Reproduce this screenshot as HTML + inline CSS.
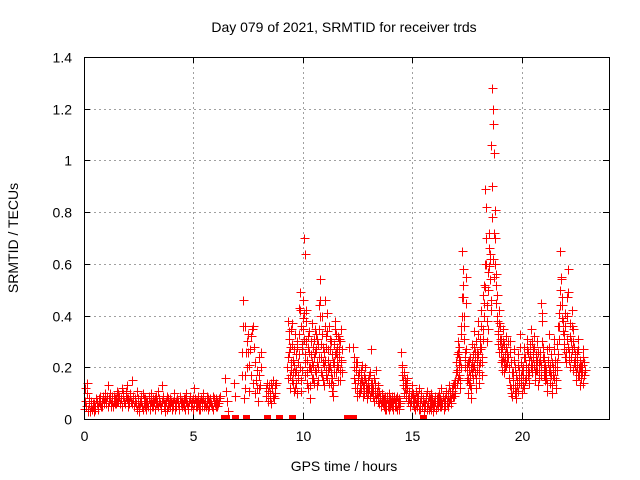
<!DOCTYPE html>
<html><head><meta charset="utf-8"><style>
body{margin:0;background:#fff}
svg{display:block;font-family:"Liberation Sans",sans-serif}
</style></head><body>
<svg id="c" width="640" height="480">
<text x="344" y="32" text-anchor="middle" font-size="14">Day 079 of 2021, SRMTID for receiver trds</text>
<text x="18" y="238" text-anchor="middle" font-size="14" transform="rotate(-90 18 238)">SRMTID / TECUs</text>
<text x="344" y="471" text-anchor="middle" font-size="14">GPS time / hours</text>
<g id="grid"></g><g id="marks"></g>
<rect x="84.5" y="57.5" width="525" height="362" fill="none" stroke="#000" stroke-width="1"/>
</svg>
<script>
const xTicks=[0,5,10,15,20];
const yTicks=[0,0.2,0.4,0.6,0.8,1,1.2,1.4];
const yTickLabels=["0","0.2","0.4","0.6","0.8","1","1.2","1.4"];
const segStarts=[0,7.2,8.3,9.3,12.3,14.5,17.0,19.4,0.025,9.315,12.32,14.52,17.015,19.417];
const segSteps=[0.05,0.03,0.03,0.03,0.04,0.04,0.03,0.035,0.05,0.03,0.04,0.04,0.03,0.035];
const seg0=[0.04,0.12,0.05,0.14,0.03,0.08,0.05,0.04,0.06,0.03,0.05,0.08,0.06,0.04,0.07,0.09,0.05,0.08,0.07,0.10,0.06,0.09,0.13,0.07,0.08,0.05,0.09,0.07,0.06,0.08,0.11,0.07,0.09,0.06,0.08,0.12,0.10,0.07,0.09,0.13,0.08,0.06,0.10,0.07,0.15,0.09,0.05,0.08,0.11,0.06,0.03,0.07,0.09,0.05,0.10,0.06,0.08,0.04,0.07,0.09,0.06,0.10,0.05,0.08,0.07,0.04,0.09,0.06,0.11,0.07,0.05,0.13,0.08,0.06,0.03,0.07,0.09,0.05,0.06,0.08,0.04,0.07,0.10,0.06,0.05,0.08,0.07,0.04,0.09,0.06,0.07,0.05,0.08,0.10,0.06,0.04,0.07,0.09,0.05,0.06,0.08,0.12,0.07,0.05,0.09,0.06,0.04,0.08,0.07,0.10,0.05,0.06,0.09,0.04,0.07,0.08,0.06,0.05,0.09,0.07,0.06,0.08,0.05,0.07,0.09];
const seg1=[0.17,0.26,0.46,0.36,0.08,0.17,0.12,0.26,0.20,0.30,0.33,0.11,0.21,0.27,0.17,0.32,0.35,0.36,0.14,0.28,0.10,0.22,0.15,0.19,0.12,0.07,0.17,0.24,0.13,0.20,0.26];
const seg2=[0.12,0.09,0.14,0.07,0.11,0.13,0.08,0.10,0.14,0.06,0.12,0.09,0.15,0.08,0.13,0.10,0.14];
const seg3=[0.20,0.38,0.26,0.31,0.17,0.35,0.22,0.29,0.18,0.14,0.21,0.12,0.33,0.19,0.10,0.28,0.16,0.43,0.25,0.49,0.11,0.36,0.27,0.46,0.39,0.70,0.64,0.22,0.30,0.42,0.18,0.28,0.12,0.34,0.20,0.08,0.25,0.16,0.37,0.21,0.31,0.14,0.26,0.18,0.33,0.22,0.15,0.29,0.35,0.54,0.46,0.24,0.17,0.40,0.28,0.13,0.21,0.46,0.19,0.32,0.41,0.16,0.23,0.36,0.20,0.27,0.14,0.30,0.11,0.22,0.09,0.18,0.25,0.38,0.33,0.21,0.28,0.15,0.31,0.24,0.19,0.35,0.22,0.27];
const seg4=[0.28,0.24,0.12,0.19,0.09,0.22,0.15,0.18,0.11,0.16,0.21,0.13,0.17,0.10,0.20,0.14,0.08,0.15,0.12,0.18,0.11,0.27,0.14,0.09,0.16,0.12,0.19,0.10,0.13,0.07,0.11,0.09,0.06,0.10,0.08,0.05,0.09,0.07,0.04,0.08,0.06,0.10,0.05,0.07,0.09,0.06,0.04,0.08,0.07,0.05,0.09,0.06,0.08,0.04,0.07];
const seg5=[0.26,0.20,0.15,0.18,0.12,0.14,0.10,0.16,0.08,0.11,0.06,0.09,0.13,0.07,0.10,0.05,0.08,0.11,0.06,0.09,0.12,0.04,0.07,0.10,0.05,0.08,0.03,0.06,0.09,0.11,0.05,0.07,0.04,0.08,0.10,0.06,0.03,0.07,0.05,0.09,0.04,0.08,0.06,0.10,0.05,0.07,0.12,0.06,0.09,0.04,0.08,0.11,0.07,0.05,0.10,0.13,0.08,0.06,0.11,0.09,0.14,0.10,0.12];
const seg6=[0.18,0.25,0.14,0.30,0.21,0.17,0.23,0.12,0.36,0.47,0.65,0.58,0.40,0.31,0.20,0.55,0.27,0.15,0.22,0.10,0.19,0.13,0.24,0.08,0.18,0.29,0.16,0.34,0.21,0.26,0.12,0.30,0.19,0.38,0.25,0.14,0.31,0.22,0.42,0.28,0.17,0.35,0.48,0.52,0.60,0.89,0.82,0.44,0.30,0.57,0.66,0.72,0.62,0.46,1.06,1.28,1.20,1.14,1.03,0.81,0.70,0.56,0.48,0.38,0.33,0.42,0.26,0.36,0.22,0.31,0.19,0.28,0.35,0.18,0.29,0.24,0.32,0.21,0.26,0.30];
const seg7=[0.24,0.16,0.30,0.12,0.22,0.09,0.18,0.27,0.13,0.20,0.08,0.15,0.25,0.11,0.19,0.33,0.14,0.22,0.10,0.17,0.28,0.12,0.24,0.16,0.31,0.20,0.26,0.14,0.29,0.23,0.35,0.18,0.27,0.32,0.21,0.15,0.25,0.19,0.30,0.13,0.22,0.26,0.17,0.45,0.41,0.28,0.20,0.24,0.15,0.19,0.11,0.27,0.22,0.33,0.18,0.14,0.25,0.10,0.20,0.31,0.16,0.23,0.12,0.19,0.29,0.36,0.41,0.50,0.65,0.55,0.44,0.38,0.33,0.27,0.41,0.22,0.47,0.31,0.58,0.26,0.37,0.20,0.30,0.42,0.35,0.19,0.28,0.24,0.15,0.26,0.20,0.31,0.17,0.23,0.13,0.21,0.18,0.27,0.14,0.22];
const seg8=[0.07,0.05,0.10,0.04,0.06,0.03,0.07,0.04,0.05,0.06,0.04,0.07,0.05,0.08,0.06,0.05,0.07,0.09,0.06,0.08,0.07,0.05,0.08,0.10,0.06,0.07,0.05,0.09,0.08,0.06,0.07,0.10,0.06,0.08,0.05,0.09,0.07,0.06,0.11,0.08,0.05,0.07,0.09,0.06,0.08,0.05,0.07,0.06,0.04,0.08,0.05,0.06,0.07,0.04,0.08,0.05,0.07,0.06,0.05,0.08,0.04,0.07,0.06,0.05,0.08,0.06,0.07,0.05,0.08,0.06,0.04,0.07,0.09,0.05,0.06,0.04,0.08,0.06,0.05,0.07,0.06,0.05,0.08,0.04,0.07,0.06,0.05,0.08,0.07,0.05,0.06,0.08,0.04,0.07,0.06,0.05,0.08,0.06,0.07,0.04,0.06,0.08,0.05,0.07,0.06,0.04,0.07,0.05,0.08,0.06,0.07,0.05,0.06,0.08,0.05,0.07,0.06,0.04,0.08,0.06,0.05,0.07,0.06,0.08];
const seg9=[0.16,0.24,0.34,0.12,0.28,0.19,0.37,0.15,0.23,0.27,0.11,0.18,0.25,0.14,0.30,0.22,0.17,0.33,0.20,0.42,0.15,0.29,0.19,0.35,0.41,0.31,0.25,0.17,0.38,0.23,0.14,0.32,0.20,0.26,0.13,0.19,0.30,0.22,0.28,0.16,0.24,0.35,0.19,0.27,0.13,0.31,0.20,0.24,0.44,0.40,0.29,0.18,0.33,0.22,0.15,0.26,0.36,0.23,0.17,0.28,0.34,0.19,0.27,0.14,0.31,0.21,0.18,0.25,0.16,0.13,0.22,0.29,0.35,0.26,0.18,0.24,0.32,0.20,0.27,0.15,0.30,0.23,0.18];
const seg10=[0.20,0.16,0.14,0.22,0.12,0.17,0.10,0.14,0.19,0.12,0.15,0.09,0.13,0.16,0.11,0.12,0.10,0.13,0.17,0.09,0.14,0.11,0.12,0.07,0.10,0.14,0.08,0.11,0.09,0.06,0.08,0.05,0.07,0.09,0.06,0.08,0.04,0.06,0.09,0.05,0.07,0.04,0.08,0.06,0.05,0.07,0.09,0.05,0.06,0.08,0.04,0.07,0.05,0.06];
const seg11=[0.21,0.17,0.13,0.10,0.15,0.09,0.12,0.07,0.10,0.08,0.05,0.07,0.10,0.06,0.08,0.04,0.06,0.09,0.05,0.07,0.04,0.06,0.08,0.05,0.07,0.04,0.06,0.05,0.08,0.04,0.06,0.09,0.05,0.07,0.04,0.08,0.06,0.05,0.07,0.04,0.06,0.09,0.05,0.07,0.08,0.05,0.06,0.09,0.07,0.05,0.08,0.10,0.06,0.09,0.07,0.11,0.08,0.12,0.10,0.13,0.09,0.15];
const seg12=[0.22,0.19,0.26,0.16,0.24,0.28,0.15,0.20,0.33,0.40,0.52,0.47,0.36,0.26,0.24,0.45,0.21,0.19,0.16,0.14,0.23,0.17,0.20,0.12,0.22,0.25,0.20,0.28,0.24,0.18,0.16,0.26,0.23,0.33,0.21,0.18,0.27,0.30,0.36,0.24,0.22,0.31,0.40,0.45,0.51,0.70,0.60,0.38,0.35,0.50,0.59,0.64,0.54,0.42,0.90,0.78,0.62,0.55,0.72,0.60,0.52,0.45,0.40,0.34,0.29,0.37,0.30,0.31,0.26,0.27,0.23,0.24,0.30,0.22,0.25,0.20,0.28,0.24,0.22];
const seg13=[0.20,0.13,0.26,0.10,0.18,0.12,0.15,0.23,0.10,0.17,0.11,0.13,0.21,0.14,0.16,0.28,0.17,0.19,0.13,0.20,0.24,0.15,0.21,0.19,0.27,0.17,0.23,0.18,0.25,0.20,0.30,0.21,0.24,0.28,0.18,0.19,0.22,0.23,0.26,0.16,0.19,0.23,0.21,0.38,0.30,0.24,0.17,0.21,0.18,0.16,0.14,0.23,0.19,0.28,0.21,0.17,0.22,0.13,0.17,0.27,0.19,0.20,0.15,0.22,0.25,0.31,0.36,0.44,0.54,0.47,0.39,0.34,0.29,0.24,0.36,0.26,0.40,0.28,0.49,0.23,0.32,0.24,0.27,0.36,0.30,0.22,0.25,0.21,0.18,0.23,0.17,0.27,0.20,0.20,0.16,0.18,0.21,0.24,0.17,0.19];
const segValues=[seg0,seg1,seg2,seg3,seg4,seg5,seg6,seg7,seg8,seg9,seg10,seg11,seg12,seg13];
const extraTimes=[6.45,6.5,6.55,6.6,6.85,6.9,12.1,7.35,7.5,8.0];
const extraValues=[0.16,0.11,0.07,0.03,0.14,0.09,0.28,0.36,0.26,0.12];
const zeroTimes=[6.4,6.5,6.9,7.4,8.35,8.9,9.5,12.0,12.3,15.5];

const NS="http://www.w3.org/2000/svg";
const X0=84,X1=609,Y0=419,Y1=57,XMAX=24,YMAX=1.4;
const xs=t=>X0+(X1-X0)*t/XMAX;
const ys=v=>Y0-(Y0-Y1)*v/YMAX;
const grid=document.getElementById('grid'),marks=document.getElementById('marks');
function mk(tag,attrs,parent){const e=document.createElementNS(NS,tag);for(const k in attrs)e.setAttribute(k,attrs[k]);parent.appendChild(e);return e;}
xTicks.forEach(t=>{
  const x=Math.round(xs(t))+0.5;
  if(t>0){const g=mk('line',{x1:x,x2:x,y1:Y1,y2:Y0,stroke:'#a0a0a0','stroke-dasharray':'2,3'},grid);
  
  }
  mk('line',{x1:x,x2:x,y1:Y0,y2:Y0-6,stroke:'#000'},grid);
  mk('line',{x1:x,x2:x,y1:Y1,y2:Y1+6,stroke:'#000'},grid);
  const l=mk('text',{x:x,y:Y0+22,'text-anchor':'middle','font-size':'14'},grid);l.textContent=t;
  
  
});
yTicks.forEach((v,i)=>{
  const y=Math.round(ys(v))+0.5;
  if(v>0&&v<YMAX){const g=mk('line',{x1:X0,x2:X1,y1:y,y2:y,stroke:'#a0a0a0','stroke-dasharray':'2,3'},grid);
  
  }
  mk('line',{x1:X0,x2:X0+6,y1:y,y2:y,stroke:'#000'},grid);
  mk('line',{x1:X1,x2:X1-6,y1:y,y2:y,stroke:'#000'},grid);
  const l=mk('text',{x:X0-12,y:y+5,'text-anchor':'end','font-size':'14'},grid);l.textContent=yTickLabels[i];
  
  
});
function plus(t,v,col){
  const x=Math.round(xs(t))+0.5,y=Math.round(ys(v))+0.5;
  const p=mk('path',{d:`M${x-4},${y}h9M${x},${y-4}v9`,stroke:col,'stroke-width':'1',fill:'none'},marks);
  
  
}
segValues.forEach((vals,s)=>{vals.forEach((v,i)=>plus(segStarts[s]+segSteps[s]*i,v,'#ff0000'));});
extraTimes.forEach((t,i)=>plus(t,extraValues[i],'#ff0000'));
zeroTimes.forEach(t=>{
  const r=mk('rect',{x:Math.round(xs(t))-3,y:Y0-4,width:7,height:5,fill:'#ff0000'},marks);
  
  
});
</script>
</body></html>
